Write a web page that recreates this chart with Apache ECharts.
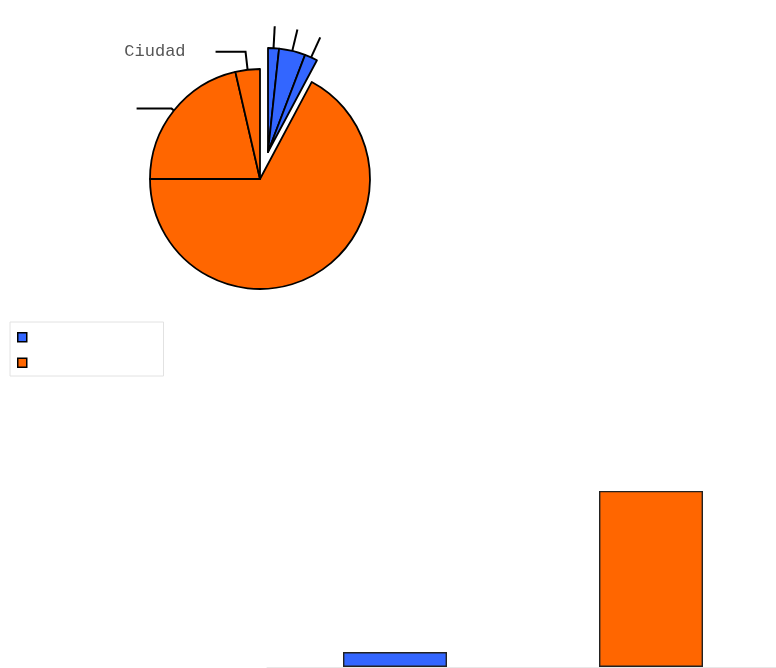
<!DOCTYPE html>
<html><head><meta charset="utf-8">
<script src="https://cdn.jsdelivr.net/npm/echarts@6/dist/echarts.min.js"></script>
<style>html,body{margin:0;padding:0;background:#fff}#c{width:776px;height:668px}</style>
</head><body><div id="c"></div>
<script>
// ---- data ----
const sliceNames = ['Azul 1', 'Azul 2', 'Azul 3', 'Naranja 1', 'Naranja 2', 'Naranja 3'];
const sliceGroups = ['blue', 'blue', 'blue', 'orange', 'orange', 'orange'];
const sliceValues = [1.7, 4.1, 2.0, 67.2, 21.4, 3.6];
const sliceLabels = [' ', ' ', ' ', '', ' ', 'Ciudad'];
const barCategories = ['Grupo 1', 'Grupo 2'];
const barSeriesNames = ['Serie azul', 'Serie naranja'];
const barValues = [7.8, 92.2];

// ---- styles ----
const colors = { blue: '#3366ff', orange: '#ff6600' };
const lineStyles = [
  { length: 22, length2: 0, gap: 2 },
  { length: 22, length2: 0, gap: 2 },
  { length: 22, length2: 0, gap: 2 },
  { length: 0, length2: 0, gap: 2 },
  { length: 3, length2: 35, gap: 2 },
  { length: 18, length2: 30, gap: 30 }
];

function pieData(activeGroup) {
  return sliceValues.map((v, i) => {
    const active = sliceGroups[i] === activeGroup;
    const hasLabel = active && sliceLabels[i] !== '';
    return {
      name: sliceNames[i],
      value: v,
      itemStyle: active
        ? { color: colors[sliceGroups[i]], borderColor: '#000', borderWidth: 1.8 }
        : { color: 'rgba(0,0,0,0)', borderWidth: 0 },
      label: {
        show: hasLabel,
        formatter: () => sliceLabels[i],
        fontFamily: 'Liberation Mono',
        fontSize: 17,
        color: '#555',
        distanceToLabelLine: lineStyles[i].gap
      },
      labelLine: {
        show: hasLabel,
        length: lineStyles[i].length,
        length2: lineStyles[i].length2,
        smooth: false,
        lineStyle: { color: '#000', width: 2 }
      }
    };
  });
}

const chart = echarts.init(document.getElementById('c'), null, { renderer: 'canvas' });
chart.setOption({
  animation: false,
  backgroundColor: '#fff',
  legend: {
    data: barSeriesNames,
    orient: 'vertical',
    left: 10,
    top: 322,
    icon: 'rect',
    itemWidth: 9,
    itemHeight: 9,
    itemGap: 15,
    selectedMode: false,
    formatter: function () { return ''; },
    padding: [10, 136, 8, 7],
    borderColor: '#e2e2e2',
    borderWidth: 1,
    backgroundColor: '#fff',
    itemStyle: { borderColor: '#000', borderWidth: 1.5 }
  },
  grid: { left: 267, width: 512, top: 476, bottom: 1, outerBoundsMode: 'none', containLabel: false },
  xAxis: {
    type: 'category',
    data: barCategories,
    axisLine: { show: true, lineStyle: { color: '#e8e8e8', width: 1 } },
    axisTick: { show: false },
    axisLabel: { show: false },
    splitLine: { show: false }
  },
  yAxis: { type: 'value', min: 0, max: 100, show: false },
  series: [
    {
      type: 'pie',
      silent: true,
      center: [260, 179],
      radius: 110,
      startAngle: 90,
      clockwise: true,
      avoidLabelOverlap: false,
      data: pieData('orange')
    },
    {
      type: 'pie',
      silent: true,
      center: [268, 152],
      radius: 104,
      startAngle: 90,
      clockwise: true,
      avoidLabelOverlap: false,
      data: pieData('blue')
    },
    {
      type: 'bar',
      name: barSeriesNames[0],
      data: [barValues[0], '-'],
      barWidth: 104,
      barGap: '-100%',
      itemStyle: { color: colors.blue, borderColor: '#222', borderWidth: 1.4 }
    },
    {
      type: 'bar',
      name: barSeriesNames[1],
      data: ['-', barValues[1]],
      barWidth: 104,
      barGap: '-100%',
      itemStyle: { color: colors.orange, borderColor: '#222', borderWidth: 1.4 }
    }
  ]
});
</script>
</body></html>
